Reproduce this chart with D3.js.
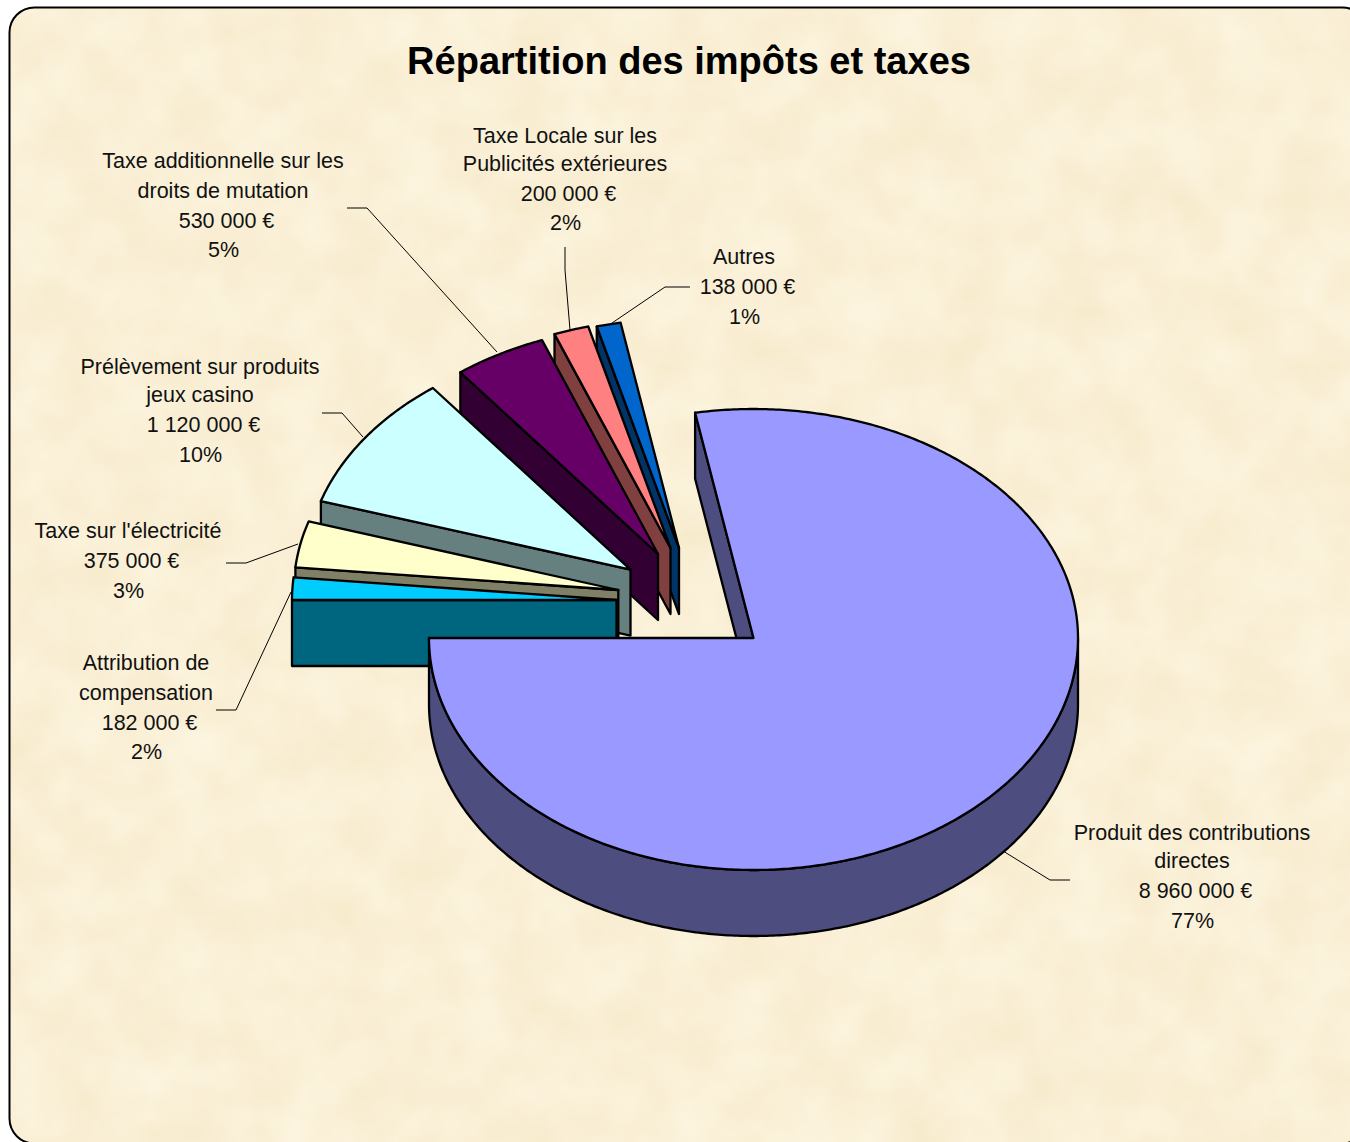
<!DOCTYPE html>
<html lang="fr">
<head>
<meta charset="utf-8">
<title>Répartition des impôts et taxes</title>
<script src="https://cdn.jsdelivr.net/npm/d3@7"></script>
<style>
  html, body { margin: 0; padding: 0; background: #fff; overflow: hidden; }
  svg { display: block; }
  text { font-family: "Liberation Sans", Arial, sans-serif; fill: #111; }
</style>
</head>
<body>
<svg id="graph" width="1350" height="1142"></svg>
<script>
// Données
const categories = [
  ["Produit des contributions", "directes"],
  ["Attribution de", "compensation"],
  ["Taxe sur l'électricité"],
  ["Prélèvement sur produits", "jeux casino"],
  ["Taxe additionnelle sur les", "droits de mutation"],
  ["Taxe Locale sur les", "Publicités extérieures"],
  ["Autres"]
];
const values = [8960000, 182000, 375000, 1120000, 530000, 200000, 138000];
const percents = ["77%", "2%", "3%", "10%", "5%", "2%", "1%"];
const colors = ["#9999FF", "#00CCFF", "#FFFFCC", "#CCFFFF", "#660066", "#FF8080", "#0066CC"];

// Mise en page
const width = 1350, height = 1142;
const cx = 753.5, cy = 638, rx = 324.5, depth = 66;
const explode = [[0, 0], [-137, -38], [-135.2, -48], [-123, -68.4], [-95.5, -84], [-83, -90], [-74.5, -90]];
const labelPos = [[1192, 840], [146, 670], [128, 538], [200, 373.5], [223, 168], [565, 142.5], [744, 264]];
const labelGap = [-1.5, 0, 0, -1, 0, -1.5, 0];
const leaders = [
  [[1003, 851], [1050, 880], [1070, 880]],
  [[291, 592], [236, 710], [216, 710]],
  [[298, 544], [246, 563], [226, 563]],
  [[363, 437], [342, 413], [322, 413]],
  [[497, 352], [367, 208], [347, 208]],
  [[570, 330], [565, 270], [565, 247]],
  [[612, 323], [665, 287], [690, 287]]
];

const svg = d3.select("#graph");
const defs = svg.append("defs");

// Fond parchemin
const paper = defs.append("filter").attr("id", "paper")
  .attr("x", 0).attr("y", 0).attr("width", 1).attr("height", 1)
  .attr("color-interpolation-filters", "sRGB");
paper.append("feTurbulence")
  .attr("type", "fractalNoise").attr("baseFrequency", 0.018).attr("numOctaves", 3).attr("seed", 7);
paper.append("feColorMatrix").attr("type", "matrix")
  .attr("values", "0.03 0 0 0 0.965  0.05 0 0 0 0.915  0.10 0 0 0 0.79  0 0 0 0 1");

const frame = { x: 9.5, y: 7.5, width: 1358, height: 1136, rx: 25 };
defs.append("clipPath").attr("id", "frame-clip").append("rect")
  .attr("x", frame.x).attr("y", frame.y).attr("width", frame.width).attr("height", frame.height).attr("rx", frame.rx);
svg.append("rect")
  .attr("width", width).attr("height", height)
  .attr("filter", "url(#paper)").attr("clip-path", "url(#frame-clip)");
svg.append("rect")
  .attr("x", frame.x).attr("y", frame.y).attr("width", frame.width).attr("height", frame.height).attr("rx", frame.rx)
  .attr("fill", "none").attr("stroke", "#000").attr("stroke-width", 2);

// Titre
svg.append("text")
  .attr("x", 689).attr("y", 74).attr("text-anchor", "middle")
  .attr("font-size", 38).attr("font-weight", "bold").style("fill", "#000")
  .text("Répartition des impôts et taxes");

// Secteurs : la grande part finit à 9 heures, les autres suivent dans le sens horaire
const total = d3.sum(values);
const startAngle = 1.5 * Math.PI - 2 * Math.PI * values[0] / total;
const slices = d3.pie().sort(null).startAngle(startAngle).endAngle(startAngle + 2 * Math.PI)(values);

const x = d3.scaleLinear().domain([-1, 1]).range([cx - rx, cx + rx]);
const y = d3.scaleLinear().domain([-1, 0, 1]).range([cy - 229, cy, cy + 232]);
const rim = a => [x(Math.sin(a)), y(-Math.cos(a))];
const line = d3.line();
const sweep = (a0, a1) => d3.range(a0, a1, 0.01).concat(a1).map(rim);

const pie = svg.append("g").attr("stroke", "#000").attr("stroke-width", 2.3).attr("stroke-linejoin", "round");

function drawSlice(s, i) {
  const [ox, oy] = explode[i];
  const top = d3.rgb(colors[i]);
  const side = d3.rgb(top.r / 2, top.g / 2, top.b / 2).formatHex();
  const g = pie.append("g").attr("transform", `translate(${ox},${oy})`);

  // Face coupée
  const p = rim(s.startAngle);
  g.append("path").attr("fill", side)
    .attr("d", line([[cx, cy], p, [p[0], p[1] + depth], [cx, cy + depth]]) + "Z");

  // Paroi extérieure, seulement pour la moitié avant
  const a0 = Math.max(s.startAngle, Math.PI / 2), a1 = Math.min(s.endAngle, 1.5 * Math.PI);
  if (a1 > a0) {
    const front = sweep(a0, a1);
    const back = front.map(d => [d[0], d[1] + depth]).reverse();
    g.append("path").attr("fill", side).attr("d", line(front.concat(back)) + "Z");
  }

  // Dessus
  g.append("path").attr("fill", colors[i])
    .attr("d", line([[cx, cy]].concat(sweep(s.startAngle, s.endAngle))) + "Z");
}

// Du fond vers l'avant
d3.range(slices.length - 1, -1, -1).forEach(i => drawSlice(slices[i], i));

// Traits de repère
svg.append("g").selectAll("path").data(leaders).enter().append("path")
  .attr("d", d => line(d))
  .attr("fill", "none").attr("stroke", "#000").attr("stroke-width", 1);

// Étiquettes
const euro = v => d3.format(",")(v).replace(/,/g, " ") + " €";
categories.forEach((name, i) => {
  const rows = name.map(t => ({ t, dx: 0 }))
    .concat([{ t: euro(values[i]), dx: 3.5 }, { t: percents[i], dx: 0.5 }]);
  svg.append("g").selectAll("text").data(rows).enter().append("text")
    .attr("x", d => labelPos[i][0] + d.dx)
    .attr("y", (d, k) => labelPos[i][1] + k * 29.8 + (k > 0 ? labelGap[i] : 0))
    .attr("text-anchor", "middle")
    .attr("font-size", 21.5)
    .text(d => d.t);
});
</script>
</body>
</html>
